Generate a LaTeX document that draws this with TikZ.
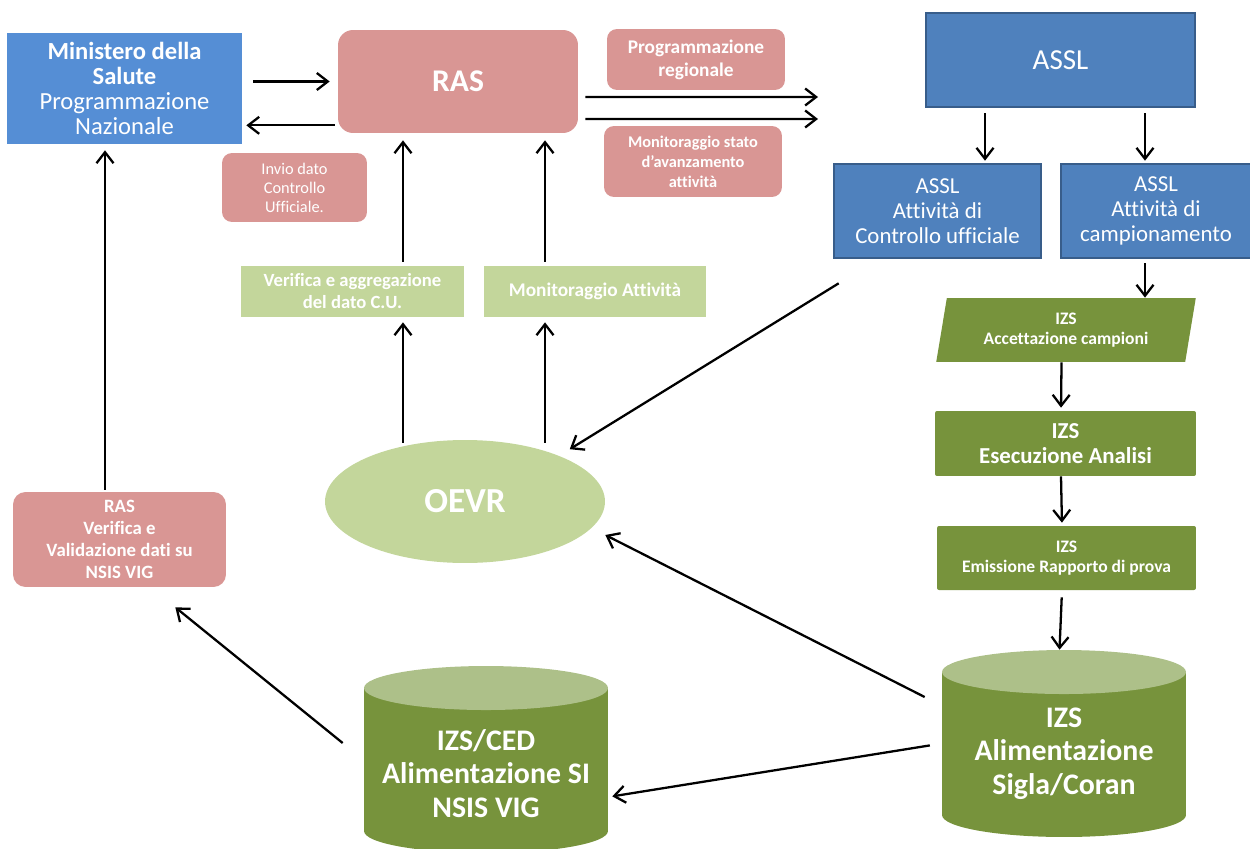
\documentclass[tikz,border=0pt]{standalone}
\usepackage{fontspec}
\setmainfont[Ligatures=NoCommon]{Carlito}
\usepackage{tikz}
\usetikzlibrary{arrows.meta}
\usetikzlibrary{positioning}
\usetikzlibrary{shapes.geometric}
\definecolor{minblue}{RGB}{85,142,213}
\definecolor{asslblue}{RGB}{79,129,189}
\definecolor{asslline}{RGB}{56,93,138}
\definecolor{raspink}{RGB}{217,150,148}
\definecolor{lightgreen}{RGB}{195,214,155}
\definecolor{darkgreen}{RGB}{119,147,60}
\definecolor{topgreen}{RGB}{173,192,137}

\begin{document}
\begin{tikzpicture}[x=0.02cm, y=-0.02cm,
    box/.style={rectangle, align=center, text=white, inner sep=0pt},
    pinkbox/.style={box, fill=raspink, rounded corners=2.5mm},
    greenbox/.style={box, fill=lightgreen},
    izsbox/.style={box, fill=darkgreen, rounded corners=0.4mm},
    asslbox/.style={box, fill=asslblue, draw=asslline, line width=1.5pt},
    dbase/.style={box, minimum width=4.88cm, minimum height=3.74cm, font=\fontsize{17}{19}\selectfont\bfseries,
        path picture={
            \fill [darkgreen] ([yshift=-4.4mm]path picture bounding box.north west) -- ([yshift=4.4mm]path picture bounding box.south west) arc [start angle=180, end angle=360, x radius=2.44cm, y radius=4.4mm] -- ([yshift=-4.4mm]path picture bounding box.north east) -- cycle;
            \fill [topgreen] ([yshift=-4.4mm]path picture bounding box.north) ellipse [x radius=2.44cm, y radius=4.4mm];
        }},
    arr/.style={-{Straight Barb[length=2.2mm, width=3.4mm]}, line width=1.3pt}]
    \useasboundingbox (0, 0) rectangle (1250, 848);

    \node [box, fill=minblue, minimum width=4.7cm, minimum height=2.22cm, font=\fontsize{14}{14.2}\selectfont] (min) at (124.5, 88.5) {\textbf{Ministero della}\\\textbf{Salute}\\Programmazione\\Nazionale};
    \node [pinkbox, minimum width=4.8cm, minimum height=2.06cm, rounded corners=3mm, font=\fontsize{18}{20}\selectfont\bfseries] (ras) at (458, 81.5) {RAS};
    \node [pinkbox, minimum width=2.9cm, minimum height=1.38cm, rounded corners=2mm, font=\fontsize{9.3}{10.8}\selectfont] (invio) at (294.5, 187.5) {Invio dato\\Controllo\\Ufficiale.};
    \node [pinkbox, minimum width=3.56cm, minimum height=1.22cm, rounded corners=2mm, font=\fontsize{11}{13}\selectfont\bfseries] (progreg) at (696, 59.5) {Programmazione\\regionale};
    \node [pinkbox, minimum width=3.56cm, minimum height=1.42cm, rounded corners=2mm, font=\fontsize{9.3}{11.3}\selectfont\bfseries] (monstato) at (693, 161.5) {Monitoraggio stato\\d’avanzamento\\attività};

    \node [asslbox, minimum width=5.38cm, minimum height=1.88cm, font=\fontsize{16.5}{18}\selectfont] (assl) at (1060.5, 60) {ASSL};
    \node [asslbox, minimum width=4.14cm, minimum height=1.88cm, font=\fontsize{13}{14.2}\selectfont] (asslcu) at (937.5, 211) {ASSL\\Attività di\\Controllo ufficiale};
    \node [asslbox, minimum width=3.8cm, minimum height=1.88cm, font=\fontsize{13}{14.2}\selectfont] (asslcamp) at (1156, 211) {ASSL\\Attività di\\campionamento};

    \node [box, trapezium, trapezium left angle=78, trapezium right angle=102, trapezium stretches=true, fill=darkgreen, minimum width=5.2cm, minimum height=1.28cm, font=\fontsize{10}{11.5}\selectfont\bfseries] (accett) at (1066, 330) {IZS\\Accettazione campioni};
    \node [izsbox, minimum width=5.22cm, minimum height=1.3cm, font=\fontsize{13}{14.5}\selectfont\bfseries] (esec) at (1065.5, 443.5) {IZS\\Esecuzione Analisi};
    \node [izsbox, minimum width=5.18cm, minimum height=1.28cm, font=\fontsize{10}{11.5}\selectfont\bfseries] (emiss) at (1066.5, 558) {IZS\\Emissione Rapporto di prova};
    \node [dbase] (sigla) at (1064, 743.5) {\mbox{}\\[3.6pt]IZS\\Alimentazione\\Sigla/Coran};
    \node [dbase] (ced) at (486, 759.5) {\mbox{}\\[8.7pt]IZS/CED\\Alimentazione SI\\NSIS VIG};

    \node [ellipse, fill=lightgreen, text=white, inner sep=0pt, minimum width=5.6cm, minimum height=2.46cm, font=\fontsize{20}{22}\selectfont\bfseries] (oevr) at (465, 501.5) {OEVR};
    \node [greenbox, minimum width=4.46cm, minimum height=1.02cm, font=\fontsize{10.6}{12.5}\selectfont\bfseries] (verif) at (352.5, 291.5) {Verifica e aggregazione\\del dato C.U.};
    \node [greenbox, minimum width=4.44cm, minimum height=1.02cm, font=\fontsize{11}{13}\selectfont\bfseries] (monatt) at (595, 291.5) {Monitoraggio Attività};
    \node [pinkbox, minimum width=4.26cm, minimum height=1.9cm, font=\fontsize{10.7}{12.5}\selectfont\bfseries] (rasverif) at (119.5, 539.5) {RAS\\Verifica e\\Validazione dati su\\NSIS VIG};

    \coordinate (regout) at (818, 97);
    \coordinate (monout) at (818, 119);

    \draw [arr, shorten <=2.2mm, shorten >=1.6mm] (min.east |- ras.west) -- (ras.west);
    \draw [arr, shorten <=0.6mm, shorten >=0.8mm] ([yshift=1.6mm]ras.south west) -- ([yshift=1.6mm]ras.south west -| min.east);
    \draw [arr, shorten <=1.4mm] ([yshift=-3.1mm]ras.east) -- (regout);
    \draw [arr, shorten <=1.4mm] ([yshift=-7.5mm]ras.east) -- (monout);

    \draw [arr, shorten <=1mm, shorten >=0.4mm] ([xshift=-15.1mm]assl.south) -- ([xshift=-15.1mm]assl.south |- asslcu.north);
    \draw [arr, shorten <=1mm, shorten >=0.4mm] ([xshift=16.9mm]assl.south) -- ([xshift=16.9mm]assl.south |- asslcamp.north);
    \draw [arr, shorten <=0.8mm] ([xshift=-2.2mm]asslcamp.south) -- ([xshift=-2.2mm]asslcamp.south |- accett.north);
    \draw [arr, shorten >=0.6mm] ([xshift=-0.9mm]accett.south) -- ([xshift=-0.9mm]esec.north);
    \draw [arr, shorten >=0.6mm] ([xshift=-0.9mm]esec.south) -- ([xshift=-0.9mm]emiss.north);
    \draw [arr, shorten <=1.4mm] ([xshift=-0.9mm]emiss.south) -- ([xshift=-0.9mm]sigla.north);

    \draw [arr] ([xshift=1.2mm, yshift=-4.8mm]asslcu.south west) -- ([xshift=6mm]oevr.35);
    \draw [arr] ([xshift=-3.4mm, yshift=9.3mm]sigla.west) -- ([yshift=-6.7mm]oevr.east);
    \draw [arr, shorten <=2.4mm, shorten >=0.8mm] (sigla.west) -- ([yshift=-7.5mm]ced.east);
    \draw [arr] ([xshift=-4.2mm, yshift=3.3mm]ced.west) -- ([xshift=-10.2mm, yshift=-4mm]rasverif.south east);
    \draw [arr, shorten <=0.4mm, shorten >=1.2mm] ([xshift=-2.9mm]rasverif.north) -- ([xshift=-2.9mm]rasverif.north |- min.south);

    \draw [arr, shorten <=-0.6mm, shorten >=1mm] ([xshift=10.1mm]verif.south |- oevr.north) -- ([xshift=10.1mm]verif.south);
    \draw [arr, shorten <=-0.6mm, shorten >=1mm] ([xshift=-10mm]monatt.south |- oevr.north) -- ([xshift=-10mm]monatt.south);
    \draw [arr, shorten <=0.8mm, shorten >=1.4mm] ([xshift=10.1mm]verif.north) -- ([xshift=10.1mm]verif.north |- ras.south);
    \draw [arr, shorten <=0.8mm, shorten >=1.4mm] ([xshift=-10mm]monatt.north) -- ([xshift=-10mm]monatt.north |- ras.south);
\end{tikzpicture}
\end{document}
